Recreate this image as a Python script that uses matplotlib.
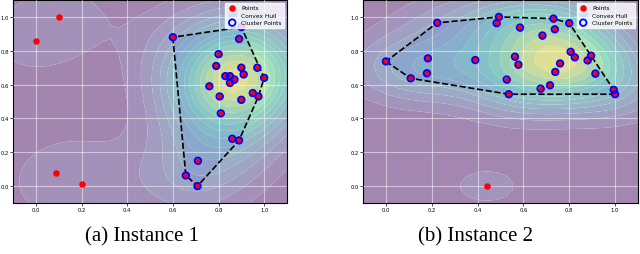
import numpy as np
import matplotlib
matplotlib.use("Agg")
import matplotlib.pyplot as plt
from matplotlib.colors import ListedColormap

# Instance 1
noise1_x = [0.00, 0.10, 0.09, 0.20]
noise1_y = [0.86, 1.00, 0.076, 0.01]
clus1_x = [0.60, 0.90, 0.89, 0.80, 0.79, 0.90, 0.97, 0.91, 0.83, 0.85, 0.87, 0.85,
           1.00, 0.76, 0.95, 0.805, 0.975, 0.90, 0.81, 0.86, 0.89, 0.71, 0.657, 0.708]
clus1_y = [0.88, 0.94, 0.87, 0.78, 0.71, 0.70, 0.70, 0.66, 0.65, 0.65, 0.63, 0.61,
           0.64, 0.59, 0.55, 0.53, 0.53, 0.51, 0.43, 0.28, 0.27, 0.15, 0.063, 0.0]

# Instance 2
noise2_x = [0.44]
noise2_y = [0.0]
clus2_x = [0.0, 0.108, 0.224, 0.183, 0.179, 0.39, 0.493, 0.483, 0.585, 0.683, 0.731,
           0.737, 0.80, 0.563, 0.578, 0.527, 0.536, 0.675, 0.716, 0.739, 0.76, 0.806,
           0.824, 0.88, 0.895, 0.914, 0.994, 1.0]
clus2_y = [0.737, 0.637, 0.965, 0.755, 0.667, 0.745, 1.0, 0.963, 0.937, 0.89, 0.99,
           0.927, 0.963, 0.765, 0.718, 0.63, 0.543, 0.576, 0.596, 0.675, 0.725, 0.794,
           0.761, 0.743, 0.771, 0.665, 0.569, 0.543]

captions = ["(a) Instance 1", "(b) Instance 2"]
ticks = [0.0, 0.2, 0.4, 0.6, 0.8, 1.0]


def kde(xs, ys, gx, gy, scale=1.0):
    data = np.vstack([xs, ys])
    n = data.shape[1]
    factor = n ** (-1.0 / 6.0) * scale
    cov = np.cov(data) * factor ** 2
    inv = np.linalg.inv(cov)
    pts = np.vstack([gx.ravel(), gy.ravel()])
    dens = np.zeros(pts.shape[1])
    for i in range(n):
        d = pts - data[:, i:i + 1]
        e = np.sum(d * (inv @ d), axis=0) / 2.0
        dens += np.exp(-e)
    return dens.reshape(gx.shape)


def hull(px, py):
    pts = sorted(set(zip(px, py)))

    def cross(o, a, b):
        return (a[0] - o[0]) * (b[1] - o[1]) - (a[1] - o[1]) * (b[0] - o[0])
    lower, upper = [], []
    for p in pts:
        while len(lower) >= 2 and cross(lower[-2], lower[-1], p) <= 0:
            lower.pop()
        lower.append(p)
    for p in reversed(pts):
        while len(upper) >= 2 and cross(upper[-2], upper[-1], p) <= 0:
            upper.pop()
        upper.append(p)
    h = lower[:-1] + upper[:-1]
    h.append(h[0])
    return [p[0] for p in h], [p[1] for p in h]


base = plt.get_cmap("viridis")(np.linspace(0, 1, 256))
blend = base.copy()
blend[:, :3] = base[:, :3] * 0.5 + 0.5
blend[:, 3] = 1.0
cmap = ListedColormap(blend)

fig = plt.figure(figsize=(6.4, 2.55), dpi=100)
axes_pos = [[13 / 640, 1 - 204 / 255, 274 / 640, 203 / 255],
            [363 / 640, 1 - 204 / 255, 275 / 640, 203 / 255]]
cap_x = [142 / 640, 476 / 640]

sets = [(noise1_x, noise1_y, clus1_x, clus1_y), (noise2_x, noise2_y, clus2_x, clus2_y)]
for k, (nx, ny, cx, cy) in enumerate(sets):
    ax = fig.add_axes(axes_pos[k])
    allx = list(nx) + list(cx)
    ally = list(ny) + list(cy)
    gx, gy = np.meshgrid(np.linspace(-0.1, 1.1, 32), np.linspace(-0.1, 1.1, 32))
    z = kde(allx, ally, gx, gy, scale=1.15)
    ax.contourf(gx, gy, z, levels=15, cmap=cmap, zorder=1, antialiased=True)
    ax.scatter(allx, ally, s=22, c="red", label="Points", zorder=4, linewidths=0)
    hx, hy = hull(cx, cy)
    ax.fill(hx, hy, color="blue", alpha=0.08, zorder=2, label="Convex Hull", lw=0)
    ax.plot(hx, hy, "k--", lw=1.2, zorder=3)
    ax.scatter(cx, cy, s=22, facecolors="none", edgecolors="blue", linewidths=1.3,
               label="Cluster Points", zorder=5)
    ax.set_xlim(-0.1, 1.1)
    ax.set_ylim(-0.1, 1.1)
    ax.set_xticks(ticks)
    ax.set_yticks(ticks)
    ax.tick_params(labelsize=3.8, length=2, width=0.5, pad=1)
    ax.set_axisbelow(False)
    ax.grid(True, color="white", alpha=0.5, lw=0.8, zorder=2.5)
    for s in ax.spines.values():
        s.set_linewidth(0.8)
    ax.legend(loc="upper right", fontsize=4.2, frameon=True, borderpad=0.4,
              handlelength=1.5, labelspacing=0.4, fancybox=False, framealpha=0.8,
              edgecolor="white")
    fig.text(cap_x[k], 0.035, captions[k], ha="center", va="bottom",
             fontsize=15, family="Liberation Serif")

fig.savefig("out.png", dpi=100)
